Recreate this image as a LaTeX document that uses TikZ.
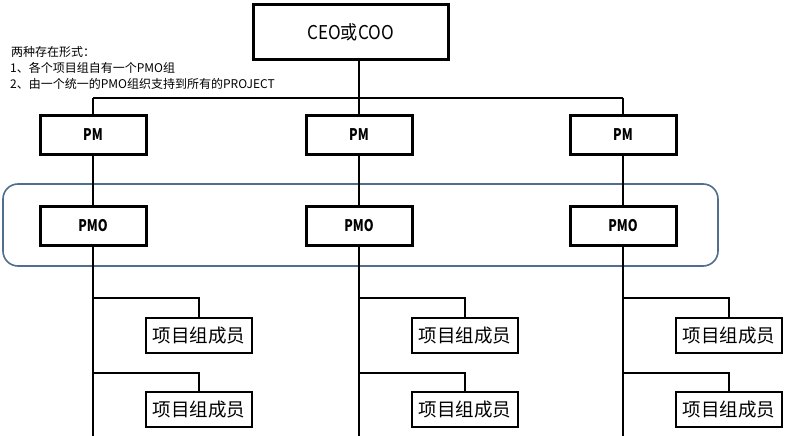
\documentclass[tikz,border=0pt]{standalone}
\usepackage{fontspec}
\setmainfont{Noto Sans CJK SC}
\newfontfamily\narrowfont[FakeStretch=0.78]{Noto Sans CJK SC}
\newfontfamily\ceofont[FakeStretch=0.9]{Noto Sans CJK SC}
\begin{document}
\begin{tikzpicture}[x=1pt,y=-1pt,
  box/.style={draw=black,line width=3pt,rectangle,inner sep=0pt,fill=white},
  ceobox/.style={box,minimum width=195pt,minimum height=55pt,font=\ceofont\fontsize{19}{21}\selectfont},
  pmbox/.style={box,minimum width=106pt,minimum height=39pt,font=\narrowfont\bfseries\fontsize{16}{18}\selectfont},
  membox/.style={box,line width=2.6pt,minimum width=106pt,minimum height=35pt,font=\fontsize{18.5}{20}\selectfont},
  conn/.style={draw=black,line width=2pt},
  group/.style={draw={rgb,255:red,80;green,110;blue,142},line width=1.6pt,rounded corners=15pt},
  note/.style={anchor=west,inner sep=0pt,font=\fontsize{12}{14}\selectfont}]
\useasboundingbox (0,0) rectangle (788,436);
\fill[white] (0,0) rectangle (788,436);

% group frame
\draw[group] (3,184) rectangle (718,266);

% nodes
\node[ceobox] (ceo) at (350.5,32.5) {CEO或COO};
\coordinate (bus) at (359,98);

\node[pmbox] (pm1) at (93,135) {PM};
\node[pmbox] (pm2) at (359,135) {PM};
\node[pmbox] (pm3) at (623,135) {PM};

\node[pmbox] (pmo1) at (93,226) {PMO};
\node[pmbox] (pmo2) at (359,226) {PMO};
\node[pmbox] (pmo3) at (623,226) {PMO};

\foreach \i/\x in {1/93,2/359,3/623}{
  \coordinate (end\i) at (\x,436);
  \coordinate (ba\i) at (\x,298);
  \coordinate (bb\i) at (\x,373);
  \node[membox] (ma\i) at (\x+106,335.5) {项目组成员};
  \node[membox] (mb\i) at (\x+106,409.5) {项目组成员};
}

% connectors
\draw[conn] (ceo.south -| bus) -- (bus);
\draw[conn] (pm1.north |- bus) -- (pm3.north |- bus);
\foreach \i in {1,2,3}{
  \draw[conn] (pm\i.north |- bus) -- (pm\i.north);
  \draw[conn] (pm\i.south) -- (pmo\i.north);
  \draw[conn] (pmo\i.south) -- (end\i);
  \draw[conn] (ba\i) -| (ma\i.north);
  \draw[conn] (bb\i) -| (mb\i.north);
}

% note
\node[note] (n1) at (11,52) {两种存在形式：};
\node[note] (n2) at (10,68) {1、各个项目组自有一个PMO组};
\node[note] (n3) at (10,83.5) {2、由一个统一的PMO组织支持到所有的PROJECT};
\end{tikzpicture}
\end{document}
